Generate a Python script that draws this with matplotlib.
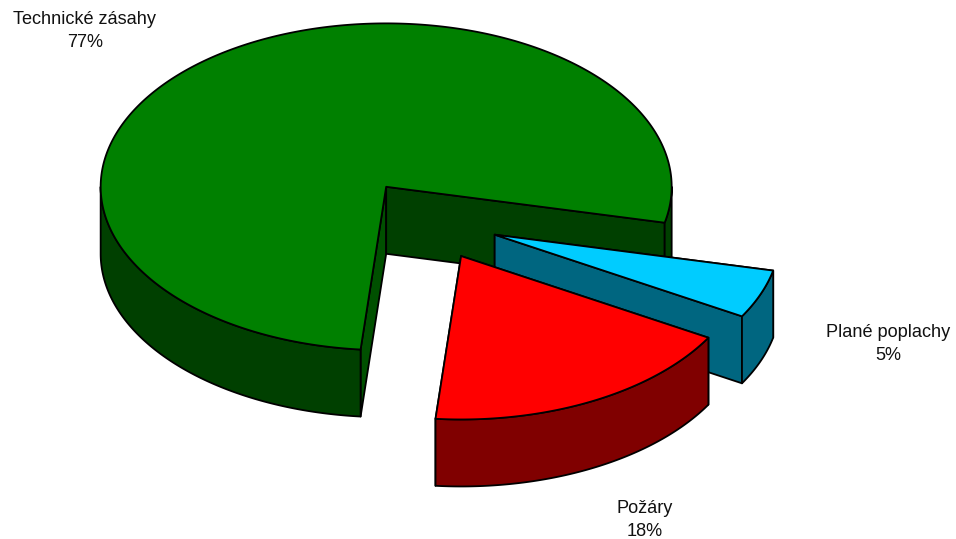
import numpy as np
import matplotlib
matplotlib.use("Agg")
import matplotlib.pyplot as plt
from matplotlib.patches import Polygon

categories = ["Plané poplachy", "Požáry", "Technické zásahy"]
values = [4.8, 18.1, 77.1]
labels = ["5%", "18%", "77%"]
top_colors = ["#00CCFF", "#FF0000", "#008000"]
side_colors = ["#006680", "#800000", "#004000"]
lit_wall_colors = ["#006680", "#800000", "#005000"]

CX, CY, RX, RY, DEPTH = 428.2, 219.8, 285.5, 163.4, 67
EXPLODE = 0.25
START = 12.7
LABEL_POS = [(888, 344), (645, 520), (85, 31)]

plt.rcParams["font.family"] = ["Liberation Sans", "DejaVu Sans"]
fig = plt.figure(figsize=(9.56, 5.39), dpi=100)
ax = fig.add_axes([0, 0, 1, 1])
ax.set_xlim(0, 956)
ax.set_ylim(539, 0)
ax.axis("off")


def arc(cx, cy, a, b, dy=0):
    t = np.radians(np.linspace(a, b, max(int(abs(b - a) * 2), 2)))
    return np.column_stack([cx + RX * np.cos(t), cy + RY * np.sin(t) + dy])


def poly(pts, color, z):
    ax.add_patch(Polygon(pts, closed=True, facecolor=color, edgecolor="black",
                         linewidth=1.3, joinstyle="round", zorder=z))


spans = []
a = START
for v in values:
    spans.append((a, a + v * 3.6))
    a += v * 3.6

# painter's order: largest slice at the back, then the small one, then the middle one
for z, i in enumerate([2, 0, 1]):
    a, b = spans[i]
    m = np.radians((a + b) / 2)
    cx = CX + EXPLODE * RX * np.cos(m)
    cy = CY + EXPLODE * RY * np.sin(m)
    base = z * 10
    # radial walls
    for ang, col in ((a, lit_wall_colors[i]), (b, side_colors[i])):
        p = arc(cx, cy, ang, ang)[0]
        poly([(cx, cy), p, (p[0], p[1] + DEPTH), (cx, cy + DEPTH)], col, base + 1)
    # outer wall: only the part of the rim that faces the viewer
    for lo, hi in ((0, 180), (360, 540)):
        s, e = max(a, lo), min(b, hi)
        if e > s:
            up = arc(cx, cy, s, e)
            down = arc(cx, cy, e, s, DEPTH)
            poly(np.vstack([up, down]), side_colors[i], base + 2)
    # top
    poly(np.vstack([[(cx, cy)], arc(cx, cy, a, b)]), top_colors[i], base + 3)

for (x, y), c, l in zip(LABEL_POS, categories, labels):
    ax.text(x, y, f"{c}\n{l}", ha="center", va="center", fontsize=13.1,
            linespacing=1.43, color="#111111", zorder=100)

fig.savefig("out.png", dpi=100, facecolor="white")
